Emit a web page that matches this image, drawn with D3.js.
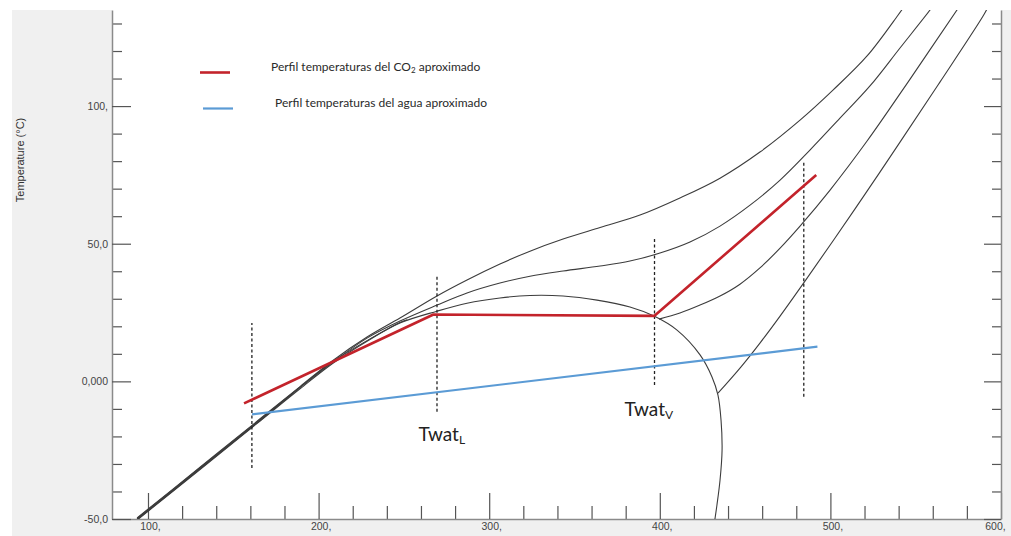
<!DOCTYPE html>
<html>
<head>
<meta charset="utf-8">
<script src="https://cdn.jsdelivr.net/npm/d3@7"></script>
<style>
  html, body { margin: 0; padding: 0; background: #ffffff; }
  svg { display: block; }
</style>
</head>
<body>
<svg id="chart" width="1011" height="536"></svg>
<script>
// ---- axis ticks ----
const hMajor = [100, 200, 300, 400, 500, 600];
const hMajorLabels = ["100,", "200,", "300,", "400,", "500,", "600,"];
const hMinor = [120, 140, 160, 180, 220, 240, 260, 280, 320, 340, 360, 380,
                420, 440, 460, 480, 520, 540, 560, 580];
const tMajor = [-50, 0, 50, 100];
const tMajorLabels = ["-50,0", "0,000", "50,0", "100,"];
const tMinor = [-40, -30, -20, -10, 10, 20, 30, 40, 60, 70, 80, 90, 110, 120, 130];

// ---- CO2 isobars on the T-h plane: [enthalpy, temperature], null = break ----
const isobarA = [[93.6,-49.6],[130.5,-31.2],[165.7,-13.6],[189.1,-1.9],[208.4,7.6],[228.4,16.1],
  [247.7,23.0],[269.4,31.0],[287.0,36.8],[306.3,42.6],[323.9,47.3],[343.3,51.7],[365.0,55.9],
  [388.4,60.4],[411.8,66.6],[435.3,73.8],[458.7,83.3],[482.2,94.9],[501.5,105.8],[521.5,118.2],
  [539.6,133.0],[542.6,135.6]];
const isobarB = [[93.6,-50.0],[130.5,-31.6],[165.7,-14.0],[189.1,-2.3],[208.4,7.0],[228.4,15.7],
  [247.7,21.9],[269.4,27.7],[287.0,32.1],[306.3,35.7],[323.9,38.2],[343.3,40.1],[365.0,41.9],
  [382.5,43.7],[400.1,46.6],[417.7,50.6],[435.3,56.4],[452.9,64.0],[470.5,73.1],[488.0,84.0],
  [505.6,95.6],[523.2,107.3],[540.8,121.1],[558.4,134.9],[561.3,137.4]];
const isobarC = [[93.6,-49.8],[130.5,-31.4],[165.7,-13.8],[189.1,-2.1],[208.4,7.2],[228.4,14.8],
  [247.7,21.4],[252.0,22.4],
  null,
  [399.5,22.6],[411.8,24.8],[423.6,27.7],[435.3,31.0],[447.0,35.3],[458.7,41.2],[470.5,48.4],
  [482.2,56.4],[499.8,69.5],[521.5,87.3],[546.7,109.8],[574.2,134.9],[577.1,137.4]];
const isobarD = [[93.6,-50.2],[130.5,-31.8],[165.7,-14.2],[185.4,-4.1],
  null,
  [434.1,-4.3],[447.0,4.8],[458.7,13.9],[470.5,23.7],[485.1,36.4],[501.5,51.0],[521.5,69.1],
  [540.8,86.9],[564.2,108.7],[589.5,132.7],[592.4,136.0]];
// saturation dome (liquid line, critical region, vapour line)
const saturation = [[93.6,-50.4],[130.5,-32.0],[165.7,-14.4],[189.1,-2.7],[208.4,6.6],[228.4,14.6],
  [247.7,21.2],[269.4,25.5],[287.0,28.4],[306.3,30.3],[323.9,31.2],[343.3,31.0],[363.2,29.5],
  [382.5,27.0],[396.6,23.7],[410.1,18.6],[423.6,9.6],[430.6,1.6],[434.1,-5.0],[435.9,-14.1],
  [436.5,-25.0],[435.3,-35.9],[433.5,-44.9],[431.8,-52.2]];

// ---- approximate temperature profiles ----
const co2Profile = [[156.3,-8.0],[267.3,24.3],[396.9,23.8],[491.7,75.0]];
const waterProfile = [[161.0,-12.0],[492.4,12.6]];

// ---- vertical reference lines: enthalpy, lower and upper temperature ----
const guideH = [160.9, 269.4, 396.9, 484.4];
const guideLow = [-31.5, -11.0, -1.3, -5.6];
const guideHigh = [21.2, 38.0, 51.9, 79.8];

// ---- point labels ----
const labelMain = ["Twat", "Twat"];
const labelSub = ["L", "V"];
const labelH = [258.5, 379.3];
const labelT = [-21.6, -12.6];

const legendNames = ["Perfil temperaturas del CO", "Perfil temperaturas del agua aproximado"];
const legendColors = ["#c3232b", "#5b9bd5"];

// ---------------------------------------------------------------
const svg = d3.select("#chart");
const W = 1011, H = 536;
const plot = { left: 112, right: 1001, top: 10, bottom: 519 };

const x = d3.scaleLinear().domain([78.9, 600]).range([plot.left, plot.right]);
const y = d3.scaleLinear().domain([-50, 134.9]).range([plot.bottom, plot.top]);

// frame background
svg.append("rect").attr("x", 12).attr("y", plot.top).attr("width", W - 12).attr("height", H - plot.top)
  .attr("fill", "#f0f0f0");
svg.append("rect").attr("x", plot.left).attr("y", plot.top)
  .attr("width", plot.right - plot.left).attr("height", plot.bottom - plot.top)
  .attr("fill", "#ffffff");

svg.append("defs").append("clipPath").attr("id", "plotClip")
  .append("rect").attr("x", plot.left).attr("y", plot.top)
  .attr("width", plot.right - plot.left).attr("height", plot.bottom - plot.top);

const tickFont = "'Liberation Sans', Arial, sans-serif";

function styleAxis(g) {
  g.select(".domain").attr("stroke", "#8a8a8a").attr("stroke-width", 1.5);
  g.selectAll(".tick line").attr("stroke", "#555").attr("stroke-width", 1.2);
  g.selectAll(".tick text").attr("fill", "#444").attr("font-family", tickFont).attr("font-size", 10.5);
}

// bottom axis
const gxMinor = svg.append("g").attr("transform", `translate(0,${plot.bottom})`)
  .call(d3.axisBottom(x).tickValues(hMinor).tickSizeInner(-13).tickSizeOuter(0).tickFormat(""));
gxMinor.select(".domain").remove();
gxMinor.selectAll(".tick line").attr("stroke", "#555").attr("stroke-width", 1.2);
const gx = svg.append("g").attr("transform", `translate(0,${plot.bottom})`)
  .call(d3.axisBottom(x).tickValues(hMajor).tickSizeInner(-26).tickSizeOuter(0).tickPadding(4)
    .tickFormat((d, i) => hMajorLabels[i]));
styleAxis(gx);
gx.selectAll(".tick text").attr("dx", (d, i) => i === hMajor.length - 1 ? -6 : 2);

// left axis
const gyMinor = svg.append("g").attr("transform", `translate(${plot.left},0)`)
  .call(d3.axisLeft(y).tickValues(tMinor).tickSizeInner(-10).tickSizeOuter(0).tickFormat(""));
gyMinor.select(".domain").remove();
gyMinor.selectAll(".tick line").attr("stroke", "#555").attr("stroke-width", 1.2);
const gy = svg.append("g").attr("transform", `translate(${plot.left},0)`)
  .call(d3.axisLeft(y).tickValues(tMajor).tickSizeInner(-19).tickSizeOuter(0).tickPadding(4)
    .tickFormat((d, i) => tMajorLabels[i]));
styleAxis(gy);

// right axis (ticks only)
const grMinor = svg.append("g").attr("transform", `translate(${plot.right},0)`)
  .call(d3.axisRight(y).tickValues(tMinor).tickSizeInner(-9).tickSizeOuter(0).tickFormat(""));
grMinor.select(".domain").remove();
grMinor.selectAll(".tick line").attr("stroke", "#555").attr("stroke-width", 1.2);
const gr = svg.append("g").attr("transform", `translate(${plot.right},0)`)
  .call(d3.axisRight(y).tickValues(tMajor).tickSizeInner(-17).tickSizeOuter(0).tickFormat(""));
styleAxis(gr);

// axis title
svg.append("text")
  .attr("transform", `translate(24,${160}) rotate(-90)`)
  .attr("text-anchor", "middle")
  .attr("font-family", tickFont).attr("font-size", 11).attr("fill", "#333")
  .text("Temperature (°C)");

// ---- curves ----
const line = d3.line()
  .defined(d => d !== null)
  .x(d => x(d[0])).y(d => y(d[1]))
  .curve(d3.curveCatmullRom.alpha(0.5));

const plotG = svg.append("g").attr("clip-path", "url(#plotClip)");

[isobarD, isobarC, saturation, isobarB, isobarA].forEach(series => {
  plotG.append("path").datum(series)
    .attr("d", line)
    .attr("fill", "none")
    .attr("stroke", "#3c3c3c")
    .attr("stroke-width", 1.1)
    .attr("stroke-linejoin", "round");
});

// dashed reference lines
plotG.selectAll("line.guide").data(guideH).join("line")
  .attr("class", "guide")
  .attr("x1", d => x(d)).attr("x2", d => x(d))
  .attr("y1", (d, i) => y(guideLow[i])).attr("y2", (d, i) => y(guideHigh[i]))
  .attr("stroke", "#222").attr("stroke-width", 1.3).attr("stroke-dasharray", "3,2.5");

const straight = d3.line().x(d => x(d[0])).y(d => y(d[1]));

plotG.append("path").datum(waterProfile)
  .attr("d", straight).attr("fill", "none")
  .attr("stroke", legendColors[1]).attr("stroke-width", 2.2);

plotG.append("path").datum(co2Profile)
  .attr("d", straight).attr("fill", "none")
  .attr("stroke", legendColors[0]).attr("stroke-width", 2.6)
  .attr("stroke-linejoin", "round");

// ---- point labels ----
const labelFont = "Lato, 'Open Sans', sans-serif";
labelMain.forEach((txt, i) => {
  const t = svg.append("text")
    .attr("x", x(labelH[i])).attr("y", y(labelT[i]))
    .attr("font-family", labelFont).attr("font-size", 19).attr("fill", "#222");
  t.append("tspan").text(txt);
  t.append("tspan").attr("font-size", 12).attr("dy", 3).text(labelSub[i]);
});

// ---- legend ----
const legendFont = labelFont;
const lg = svg.append("g");
lg.append("line").attr("x1", 200).attr("x2", 230).attr("y1", 72.5).attr("y2", 72.5)
  .attr("stroke", legendColors[0]).attr("stroke-width", 2.6);
const t1 = lg.append("text").attr("x", 271).attr("y", 71)
  .attr("font-family", legendFont).attr("font-size", 12).attr("fill", "#2a2a2a");
t1.append("tspan").text(legendNames[0]);
t1.append("tspan").attr("font-size", 8).attr("dy", 2).text("2");
t1.append("tspan").attr("dy", -2).text(" aproximado");

lg.append("line").attr("x1", 203).attr("x2", 233).attr("y1", 108.5).attr("y2", 108.5)
  .attr("stroke", legendColors[1]).attr("stroke-width", 2.2);
lg.append("text").attr("x", 275).attr("y", 107)
  .attr("font-family", legendFont).attr("font-size", 12).attr("fill", "#2a2a2a")
  .text(legendNames[1]);
</script>
</body>
</html>
